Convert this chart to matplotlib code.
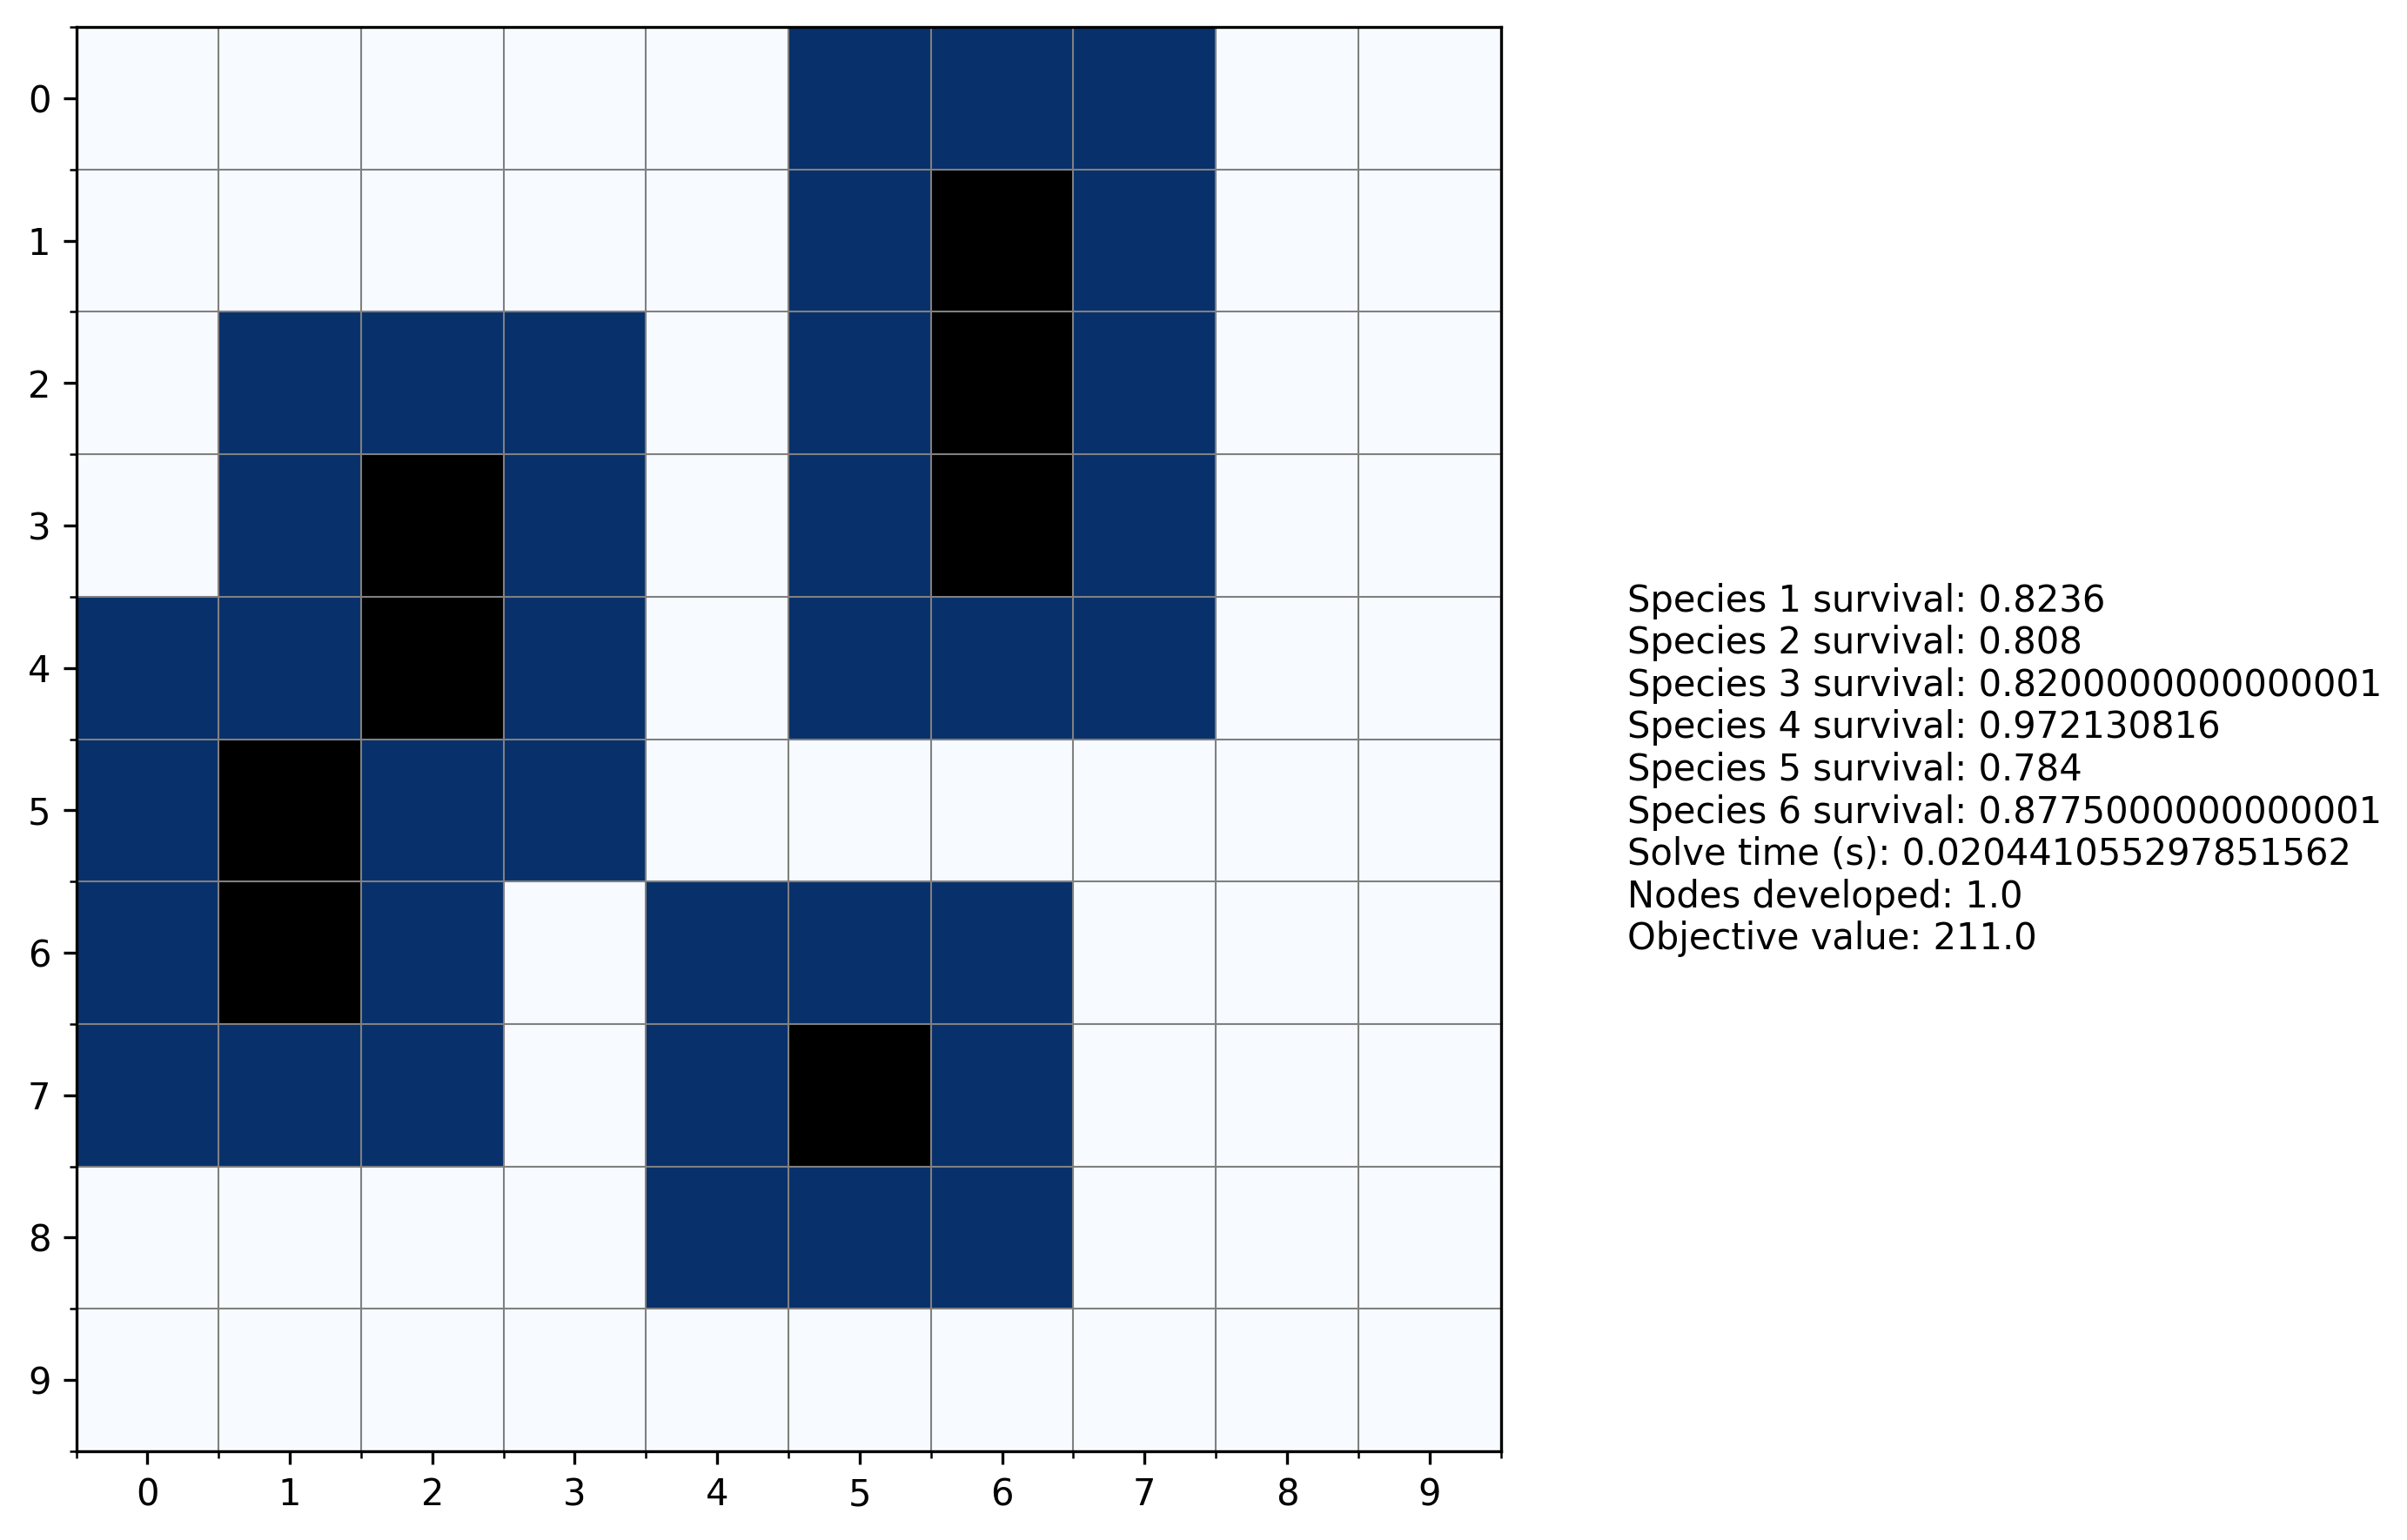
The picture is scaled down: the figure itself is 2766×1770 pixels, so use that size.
import numpy as np
import matplotlib
matplotlib.use("Agg")
import matplotlib.pyplot as plt

# 0 = empty, 1 = selected, 2 = core
grid = [
    [0, 0, 0, 0, 0, 1, 1, 1, 0, 0],
    [0, 0, 0, 0, 0, 1, 2, 1, 0, 0],
    [0, 1, 1, 1, 0, 1, 2, 1, 0, 0],
    [0, 1, 2, 1, 0, 1, 2, 1, 0, 0],
    [1, 1, 2, 1, 0, 1, 1, 1, 0, 0],
    [1, 2, 1, 1, 0, 0, 0, 0, 0, 0],
    [1, 2, 1, 0, 1, 1, 1, 0, 0, 0],
    [1, 1, 1, 0, 1, 2, 1, 0, 0, 0],
    [0, 0, 0, 0, 1, 1, 1, 0, 0, 0],
    [0, 0, 0, 0, 0, 0, 0, 0, 0, 0],
]

survival = ["0.8236", "0.808", "0.8200000000000001", "0.972130816", "0.784", "0.8775000000000001"]
solve_time = "0.020441055297851562"
nodes = "1.0"
objective = "211.0"

data = np.array(grid, dtype=float)
n = data.shape[0]

cmap = plt.get_cmap("Blues").copy()
cmap.set_over("black")

W, H = 2766, 1770
fig = plt.figure(figsize=(W / 300, H / 300), dpi=300)
ax = fig.add_axes([87 / W, 1 - 1668 / H, 1638 / W, 1637 / H])
ax.imshow(data, cmap=cmap, vmin=0, vmax=1)

ax.set_xticks(np.arange(n))
ax.set_yticks(np.arange(n))
ax.set_xticks(np.arange(-0.5, n, 1), minor=True)
ax.set_yticks(np.arange(-0.5, n, 1), minor=True)
ax.grid(which="minor", color="gray", linewidth=0.5)

lines = [f"Species {i + 1} survival: {v}" for i, v in enumerate(survival)]
lines += [f"Solve time (s): {solve_time}", f"Nodes developed: {nodes}", f"Objective value: {objective}"]
fig.text(1870 / W, 0.5, "\n".join(lines), fontsize=10, va="center", ha="left")

fig.savefig("out.png", dpi=300)
